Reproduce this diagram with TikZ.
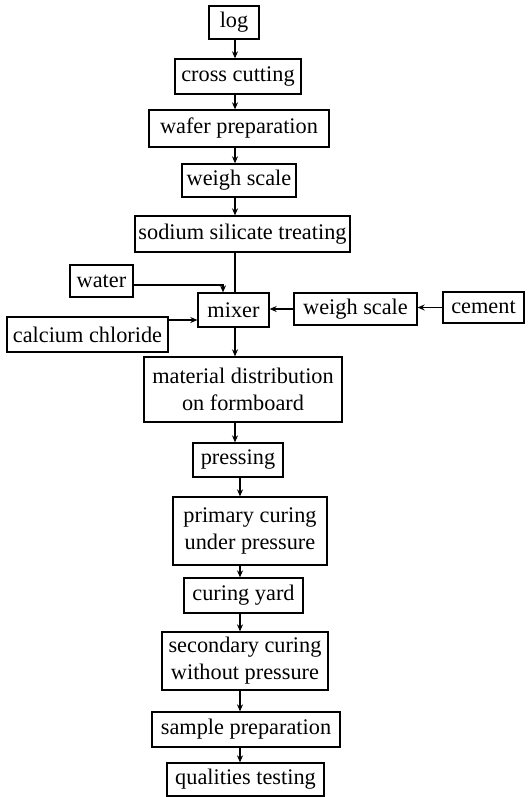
\documentclass[tikz,border=0pt]{standalone}
\usepackage{fontspec}
\setmainfont{Liberation Serif}
\usetikzlibrary{arrows.meta}
\tikzset{
  box/.style={draw, line width=1.3pt, inner sep=0pt, align=center,
    font=\fontsize{22.3}{27}\selectfont},
  arr/.style={line width=1.3pt, -{Stealth[length=7pt,width=6pt]}},
  ln/.style={line width=1.3pt},
}
\newcommand{\mybox}[6]{%
  \node[box, minimum width={(#4-#2)*1pt}, minimum height={(#5-#3)*1pt}]
    (#1) at ({(#2+#4)/2*1pt}, {-(#3+#5)/2*1pt}) {#6};}
\begin{document}
\begin{tikzpicture}
\fill[white] (0,0) rectangle (532pt,-797pt);
\useasboundingbox (0,0) rectangle (532pt,-797pt);
\mybox{log}{209}{6}{259}{39}{log}
\mybox{cross}{175}{59}{301}{94}{cross cutting}
\mybox{wafer}{149}{110}{329}{147}{wafer preparation}
\mybox{weighA}{182}{164}{296}{197}{weigh scale}
\mybox{sodium}{135}{216}{350}{252}{sodium silicate treating}
\mybox{water}{70}{265}{133}{297}{water}
\mybox{mixer}{198}{293}{269}{327}{mixer}
\mybox{weighB}{294}{293}{417}{325}{weigh scale}
\mybox{cement}{443}{292}{524}{323}{cement}
\mybox{calcium}{7}{317}{168}{352}{calcium chloride}
\mybox{material}{144}{357}{342}{422}{material distribution\\on formboard}
\mybox{pressing}{193}{443}{283}{477}{pressing}
\mybox{primary}{173}{497}{327}{565}{primary curing\\under pressure}
\mybox{yard}{184}{578}{303}{613}{curing yard}
\mybox{secondary}{162}{632}{328}{690}{secondary curing\\without pressure}
\mybox{sample}{152}{712}{340}{747}{sample preparation}
\mybox{testing}{167}{763}{324}{796}{qualities testing}
\coordinate (up) at (235pt,0);
\coordinate (lo) at (240pt,0);
\draw[arr] (log.south -| up) -- (cross.north -| up);
\draw[arr] (cross.south -| up) -- (wafer.north -| up);
\draw[arr] (wafer.south -| up) -- (weighA.north -| up);
\draw[arr] (weighA.south -| up) -- (sodium.north -| up);
\draw[ln] (sodium.south -| up) -- (mixer.north -| up);
\draw[arr] (mixer.south -| up) -- (material.north -| up);
\draw[arr] (material.south -| up) -- (pressing.north -| up);
\draw[arr] (pressing.south -| lo) -- (primary.north -| lo);
\draw[arr] (primary.south -| lo) -- (yard.north -| lo);
\draw[arr] (yard.south -| lo) -- (secondary.north -| lo);
\draw[arr] (secondary.south -| lo) -- (sample.north -| lo);
\draw[arr] (sample.south -| lo) -- (testing.north -| lo);
\draw[arr] ([yshift=-4pt]water.east) -| ([xshift=-10.5pt]mixer.north);
\draw[arr] ([yshift=14.5pt]calcium.east) -- ([yshift=14.5pt]calcium.east -| mixer.west);
\draw[arr] (weighB.west) -- (weighB.west -| mixer.east);
\draw[arr] (cement.west) -- (cement.west -| weighB.east);
\end{tikzpicture}
\end{document}
